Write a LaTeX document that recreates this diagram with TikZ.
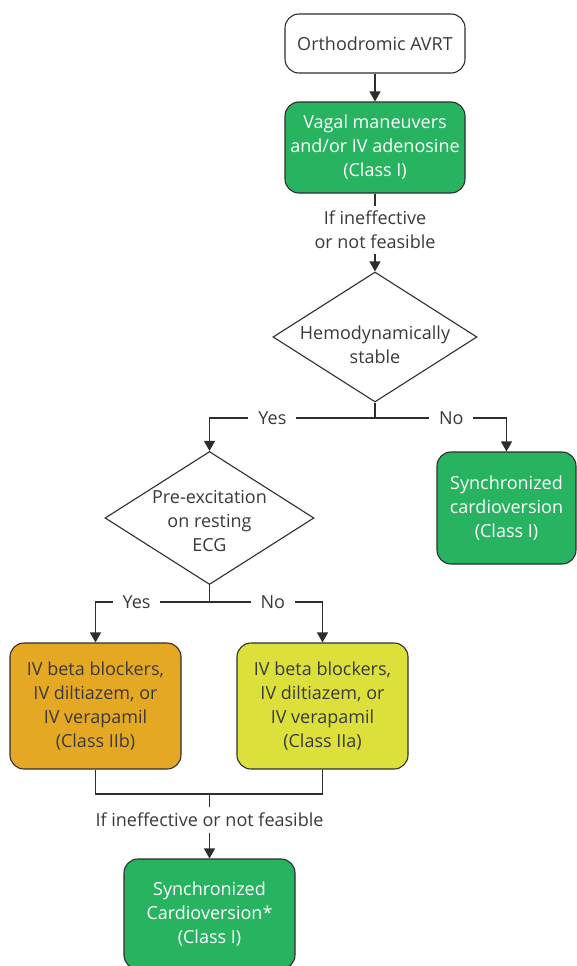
\documentclass[tikz,border=0pt]{standalone}
\usepackage{fontspec}
\setmainfont{Open Sans}
\usetikzlibrary{arrows.meta,shapes.geometric}
\definecolor{txt}{HTML}{3A3A3A}
\definecolor{edge}{HTML}{2E2E2E}
\definecolor{boxgreen}{HTML}{27B35F}
\definecolor{boxorange}{HTML}{E5A823}
\definecolor{boxyellow}{HTML}{DDE03A}
\tikzset{
  base/.style={draw=edge, line width=1.1pt, rounded corners=14pt, align=center,
    font=\fontsize{18}{24}\selectfont, text=txt, inner sep=0pt},
  startbox/.style={base, fill=white},
  greenbox/.style={base, fill=boxgreen, text=white},
  orangebox/.style={base, fill=boxorange},
  yellowbox/.style={base, fill=boxyellow},
  decision/.style={diamond, draw=edge, line width=1.1pt, fill=white, inner sep=0pt},
  dtext/.style={align=center, font=\fontsize{18}{24}\selectfont, text=txt},
  link/.style={draw=edge, line width=1.1pt},
  arr/.style={link, -{Triangle[length=10pt,width=11pt]}},
  tag/.style={fill=white, text=txt, font=\fontsize{18}{24}\selectfont, align=center, inner sep=5pt},
  choice/.style={tag, inner xsep=10pt},
}
\begin{document}
\begin{tikzpicture}[x=1pt, y=-1pt]
  \useasboundingbox (0,0) rectangle (577,966);

  % boxes
  \node[startbox, minimum width=180pt, minimum height=59pt] (start) at (375,43.5) {Orthodromic AVRT};
  \node[greenbox, minimum width=180pt, minimum height=91pt] (vagal) at (375,147.5)
    {Vagal maneuvers\\and/or IV adenosine\\(Class I)};
  \node[decision, minimum width=204pt, minimum height=130pt] (stable) at (375,337) {};
  \node[dtext] at (375,345) {Hemodynamically\\stable};
  \node[greenbox, minimum width=139pt, minimum height=112pt] (sync) at (506.5,508)
    {Synchronized\\cardioversion\\(Class I)};
  \node[decision, minimum width=209pt, minimum height=133pt] (preex) at (209.5,518) {};
  \node[dtext] at (209.5,521) {Pre-excitation\\on resting\\ECG};
  \node[orangebox, minimum width=171pt, minimum height=126pt] (ivb) at (95.5,706)
    {IV beta blockers,\\IV diltiazem, or\\IV verapamil\\(Class IIb)};
  \node[yellowbox, minimum width=171pt, minimum height=126pt] (iva) at (322.5,706)
    {IV beta blockers,\\IV diltiazem, or\\IV verapamil\\(Class IIa)};
  \node[greenbox, minimum width=171pt, minimum height=110pt] (cardio) at (209.5,914)
    {Synchronized\\Cardioversion*\\(Class I)};

  % junctions
  \coordinate (j1) at (375,418);
  \coordinate (j2) at (209.5,602);
  \coordinate (j3) at (209.5,794);

  % connectors
  \draw[arr] (start) -- (vagal);
  \draw[arr] (vagal) -- node[tag, pos=0.47]{If ineffective\\or not feasible} (stable.north);
  \draw[link] (stable.south) -- (j1);
  \draw[arr] (j1) -| node[choice, pos=0.31]{Yes} (preex.north);
  \draw[arr] (j1) -| node[choice, pos=0.29]{No} (sync.north);
  \draw[link] (preex.south) -- (j2);
  \draw[arr] (j2) -| node[choice, pos=0.32]{Yes} (ivb.north);
  \draw[arr] (j2) -| node[choice, pos=0.28]{No} (iva.north);
  \draw[link] (ivb.south) |- (j3) -| (iva.south);
  \draw[arr] (j3) -- node[tag, pos=0.4, inner sep=6pt]{If ineffective or not feasible} (cardio.north);
\end{tikzpicture}
\end{document}
